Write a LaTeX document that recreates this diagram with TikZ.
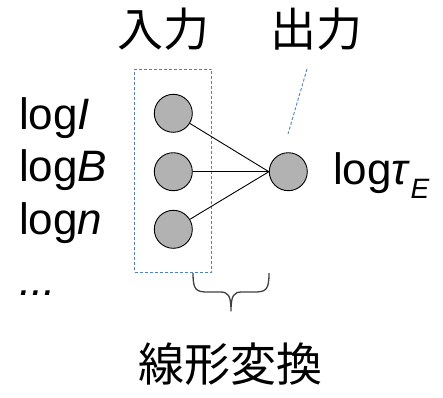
\documentclass[tikz,border=0pt]{standalone}
\usepackage{fontspec}
\setmainfont{Liberation Sans}
\newfontfamily\cjk{Noto Sans CJK JP}
\definecolor{boxblue}{RGB}{79,129,189}
\definecolor{unitgray}{RGB}{178,178,178}
\definecolor{bracegray}{RGB}{64,64,64}
\begin{document}
\begin{tikzpicture}[x=1pt,y=-1pt,
  unit/.style={circle,draw=black,line width=0.9pt,fill=unitgray,minimum size=38pt,inner sep=0pt},
  link/.style={draw=black,line width=0.9pt},
  guide/.style={draw=boxblue,line width=0.9pt,dash pattern=on 3pt off 2pt},
  cjklabel/.style={font=\cjk\fontsize{46}{50}\selectfont,inner sep=0pt},
  varlabel/.style={font=\fontsize{44}{48}\selectfont,inner sep=0pt,anchor=base west}]
\useasboundingbox (0,0) rectangle (443,397);
% input layer frame
\node[guide,draw,rectangle,minimum width=77pt,minimum height=203pt,inner sep=0pt] (frame) at (173.2,170.5) {};
% units
\node[unit] (in1) at (173.3,113.3) {};
\node[unit] (in2) at (173.3,171.7) {};
\node[unit] (in3) at (173.3,229.3) {};
\node[unit] (out) at (288.3,171.7) {};
\foreach \i in {1,2,3} \draw[link] (in\i) -- (out.west);
% headings
\node[cjklabel] (inlab) at (163,29) {入力};
\node[cjklabel] (outlab) at (316,29) {出力};
\coordinate (ptrA) at (307,69);
\coordinate (ptrB) at (288,134);
\draw[guide] (ptrA) -- (ptrB);
% variables
\node[varlabel] (vI) at (19,129) {log\textit{I}};
\node[varlabel] (vB) at (19,181) {log\textit{B}};
\node[varlabel] (vn) at (19,234) {log\textit{n}};
\node[varlabel] (vdots) at (19,295) {\textit{...}};
\node[varlabel] (vtau) at (333,184) {log\textit{τ}\raisebox{-0.33em}{\fontsize{28}{30}\selectfont\textit{E}}};
% brace under the links
\coordinate (brL) at (193,273);
\coordinate (brT) at (231,311);
\coordinate (brR) at (269,273);
\draw[bracegray,line width=1.3pt,line join=round]
  (brL) .. controls (193,290) and (196,292) .. (208,292) -- (220,292)
  .. controls (228,292) and (231,295) .. (brT)
  .. controls (231,295) and (234,292) .. (242,292) -- (254,292)
  .. controls (266,292) and (269,290) .. (brR);
\node[cjklabel] (caption) at (230,364) {線形変換};
\end{tikzpicture}
\end{document}
